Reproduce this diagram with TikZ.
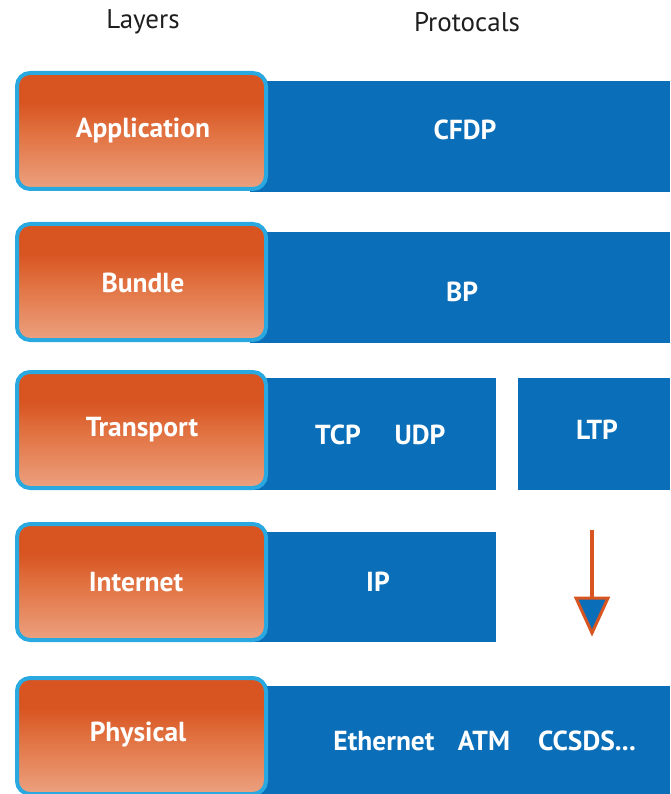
\documentclass[tikz,border=0pt]{standalone}
\usepackage{fontspec}
\setmainfont{PT Sans}
\definecolor{barblue}{HTML}{0A6EB8}
\definecolor{rimcyan}{HTML}{2AA8E0}
\definecolor{layerorange}{HTML}{D85522}
\definecolor{layermid}{HTML}{E27444}
\definecolor{layerpeach}{HTML}{F3C6B0}
\definecolor{headgray}{HTML}{1E1E1E}
\pgfdeclareverticalshading{layershade}{100bp}{%
  color(0bp)=(layerpeach); color(25bp)=(layerpeach!55!layermid);
  color(48bp)=(layermid); color(62bp)=(layerorange); color(100bp)=(layerorange)}
\tikzset{
  layerbox/.style={draw=rimcyan, line width=4pt, rounded corners=13pt,
    shade, shading=layershade, minimum width=249pt, minimum height=116pt,
    inner sep=0pt},
  bar/.style={fill=barblue, draw=none},
  lbl/.style={text=white, font=\bfseries\fontsize{27.5}{30}\selectfont, inner sep=0pt},
  head/.style={text=headgray, font=\fontsize{27}{30}\selectfont, inner sep=0pt},
}
\begin{document}
\begin{tikzpicture}[x=1pt,y=-1pt]
\useasboundingbox (0,0) rectangle (670,794);
% column headings
\node[head] (hlayers) at (143,22) {Layers};
\node[head] (hproto) at (467,22) {Protocals};
% protocol bars
\fill[bar] (250,81) rectangle (670,192);
\fill[bar] (250,232) rectangle (670,343);
\fill[bar] (250,378) rectangle (496,490);
\fill[bar] (518,378) rectangle (670,490);
\fill[bar] (250,532) rectangle (496,642);
\fill[bar] (250,686) rectangle (670,794);
% layer boxes
\node[layerbox] (app) at (141.5,131) {};
\node[layerbox] (bundle) at (141.5,282) {};
\node[layerbox] (transport) at (141.5,430) {};
\node[layerbox] (internet) at (141.5,582) {};
\node[layerbox] (physical) at (141.5,736) {};
\node[lbl] at (143,130) {Application};
\node[lbl] at (143,283) {Bundle};
\node[lbl] at (142,430) {Transport};
\node[lbl] at (136,582) {Internet};
\node[lbl] at (138,735) {Physical};
% protocol labels
\node[lbl] (cfdp) at (465,130) {CFDP};
\node[lbl] (bp) at (462,292) {BP};
\node[lbl] (tcp) at (338,435) {TCP};
\node[lbl] (udp) at (420,435) {UDP};
\node[lbl] (ltp) at (597,430) {LTP};
\node[lbl] (ip) at (378,582) {IP};
\node[lbl] (eth) at (384,741) {Ethernet};
\node[lbl] (atm) at (484,741) {ATM};
\node[lbl] (ccsds) at (587,741) {CCSDS...};
% downward arrow beside the internet layer
\coordinate (atop) at (592,530);
\coordinate (abase) at (592,598);
\coordinate (atip) at (592,633);
\draw[layerorange, line width=4pt] (atop) -- (abase);
\draw[layerorange, line width=3pt, fill=barblue, line join=miter]
  ([xshift=-16pt]abase) -- ([xshift=16pt]abase) -- (atip) -- cycle;
\end{tikzpicture}
\end{document}
